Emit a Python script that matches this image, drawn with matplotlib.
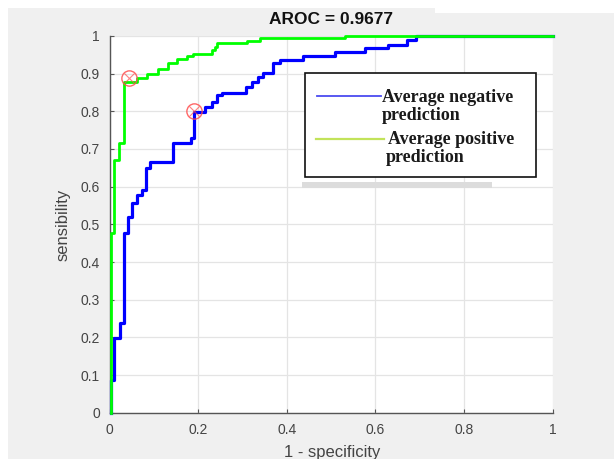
import matplotlib
matplotlib.use("Agg")
import matplotlib.pyplot as plt
from matplotlib.patches import Rectangle
from matplotlib.lines import Line2D

# -----------------------------
# Data
# -----------------------------
# staircase corners: x of the vertical jump, y at its top
neg_fpr = [0.003, 0.003, 0.011, 0.024, 0.033, 0.042, 0.051, 0.063, 0.073, 0.082,
           0.091, 0.144, 0.184, 0.191, 0.216, 0.231, 0.242, 0.253, 0.308, 0.321,
           0.335, 0.347, 0.369, 0.385, 0.437, 0.509, 0.577, 0.629, 0.671, 0.693, 1.0]
neg_tpr = [0.0, 0.087, 0.198, 0.239, 0.476, 0.519, 0.557, 0.578, 0.591, 0.649,
           0.666, 0.716, 0.728, 0.799, 0.810, 0.825, 0.843, 0.849, 0.865, 0.878,
           0.892, 0.901, 0.927, 0.936, 0.946, 0.958, 0.967, 0.976, 0.989, 1.0, 1.0]

pos_fpr = [0.003, 0.003, 0.010, 0.021, 0.033, 0.061, 0.084, 0.109, 0.132, 0.152,
           0.174, 0.188, 0.231, 0.238, 0.243, 0.310, 0.340, 0.532, 1.0]
pos_tpr = [0.0, 0.477, 0.671, 0.716, 0.878, 0.887, 0.900, 0.911, 0.927, 0.938,
           0.946, 0.951, 0.962, 0.971, 0.980, 0.986, 0.993, 1.0, 1.0]

# operating points (red circles)
cut_fpr = [0.044, 0.191]
cut_tpr = [0.888, 0.800]

x_ticks = [0, 0.2, 0.4, 0.6, 0.8, 1]
x_tick_labels = ["0", "0.2", "0.4", "0.6", "0.8", "1"]
y_ticks = [0, 0.1, 0.2, 0.3, 0.4, 0.5, 0.6, 0.7, 0.8, 0.9, 1]
y_tick_labels = ["0", "0.1", "0.2", "0.3", "0.4", "0.5", "0.6", "0.7", "0.8", "0.9", "1"]

title_txt = "AROC = 0.9677"
xlabel_txt = "1 - specificity"
ylabel_txt = "sensibility"
legend_neg = ["Average negative", "prediction"]
legend_pos = ["Average positive", "prediction"]

# -----------------------------
# Layout helpers (pixel -> figure fraction)
# -----------------------------
W, H = 614, 459


def fx(px):
    return px / W


def fy(py):
    return 1 - py / H


SANS = ["Liberation Sans", "DejaVu Sans"]
SERIF = ["Liberation Serif", "DejaVu Serif"]
TXT = "#444444"

fig = plt.figure(figsize=(W / 100, H / 100), dpi=100, facecolor="#f0f0f0")

# white margins of the screenshot
fig.patches.append(Rectangle((0, fy(8)), 1, 8 / H, transform=fig.transFigure,
                             facecolor="white", edgecolor="none", zorder=0))
fig.patches.append(Rectangle((fx(435), fy(13)), 1, 13 / H, transform=fig.transFigure,
                             facecolor="white", edgecolor="none", zorder=0))
fig.patches.append(Rectangle((0, 0), fx(8), 1, transform=fig.transFigure,
                             facecolor="white", edgecolor="none", zorder=0))

ax = fig.add_axes([fx(109.5), fy(412.8), 443 / W, 377 / H])
ax.set_facecolor("white")

ax.plot(neg_fpr, neg_tpr, drawstyle="steps-post", color="#0000ff", lw=2.3, clip_on=False, zorder=3)
ax.plot(pos_fpr, pos_tpr, drawstyle="steps-post", color="#00ff00", lw=2.0, clip_on=False, zorder=4)
ax.plot(cut_fpr, cut_tpr, "o", mfc="none", mec="#ff4d4d", ms=11, mew=1.0, alpha=0.85, zorder=5)
ax.plot(cut_fpr, cut_tpr, "x", color="#ff4d4d", ms=7, mew=0.8, alpha=0.7, zorder=5)

ax.set_xlim(0, 1)
ax.set_ylim(0, 1)
ax.set_xticks(x_ticks)
ax.set_xticklabels(x_tick_labels)
ax.set_yticks(y_ticks)
ax.set_yticklabels(y_tick_labels)
ax.grid(True, color="#e4e4e4", lw=0.9)
ax.set_axisbelow(True)
for s in ["top", "right"]:
    ax.spines[s].set_visible(False)
for s in ["left", "bottom"]:
    ax.spines[s].set_color("#555555")
    ax.spines[s].set_linewidth(1.0)
ax.tick_params(direction="in", length=3, width=0.8, color="#555555",
               labelsize=10, labelcolor=TXT, pad=7)
for lab in ax.get_xticklabels() + ax.get_yticklabels():
    lab.set_family(SANS)

fig.text(fx(331), fy(20), title_txt, ha="center", va="center", fontsize=12.5,
         fontweight="bold", color="#111111", family=SANS)
fig.text(fx(332), fy(452), xlabel_txt, ha="center", va="center", fontsize=12,
         color=TXT, family=SANS)
fig.text(fx(63), fy(225), ylabel_txt, ha="center", va="center", fontsize=12,
         color=TXT, family=SANS, rotation=90)

# legend (pasted box with shadow)
fig.add_artist(Rectangle((fx(302), fy(188)), (492 - 302) / W, 6 / H, transform=fig.transFigure,
                         facecolor="#dcdcdc", edgecolor="none", zorder=6))
fig.add_artist(Rectangle((fx(305), fy(177)), 231 / W, 104 / H, transform=fig.transFigure,
                         facecolor="white", edgecolor="#111111", lw=1.2, zorder=7))
fig.add_artist(Line2D([fx(317), fx(381)], [fy(96), fy(96)], transform=fig.transFigure,
                      color="#4b4bf0", lw=1.3, zorder=8))
fig.add_artist(Line2D([fx(316), fx(384)], [fy(138.5), fy(138.5)], transform=fig.transFigure,
                      color="#c2e35a", lw=1.6, zorder=8))
fig.text(fx(382), fy(97.5), legend_neg[0], ha="left", va="center", fontsize=13,
         fontweight="bold", color="#1a1a1a", family=SERIF, zorder=9)
fig.text(fx(382), fy(115.5), legend_neg[1], ha="left", va="center", fontsize=13,
         fontweight="bold", color="#1a1a1a", family=SERIF, zorder=9)
fig.text(fx(388), fy(140), legend_pos[0], ha="left", va="center", fontsize=13,
         fontweight="bold", color="#1a1a1a", family=SERIF, zorder=9)
fig.text(fx(386), fy(158), legend_pos[1], ha="left", va="center", fontsize=13,
         fontweight="bold", color="#1a1a1a", family=SERIF, zorder=9)

fig.savefig("out.png", dpi=100, facecolor=fig.get_facecolor())
